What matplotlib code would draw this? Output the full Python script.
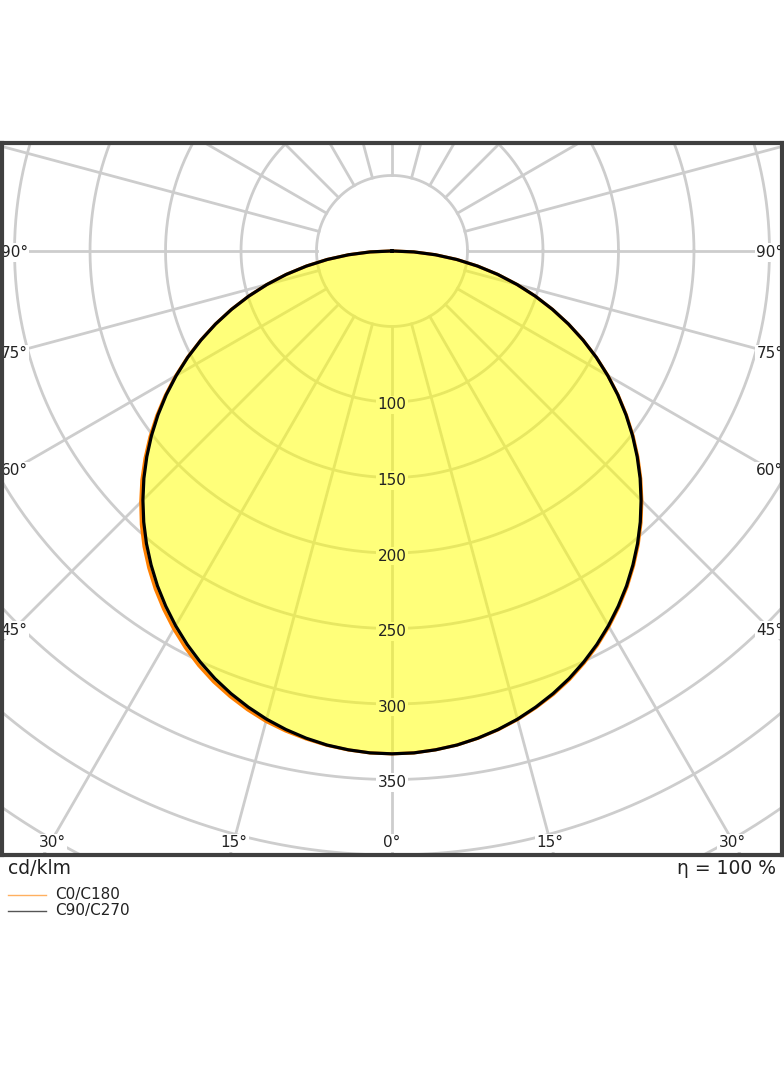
import numpy as np
import matplotlib.pyplot as plt
from matplotlib.lines import Line2D

# luminous intensity (cd/klm) vs gamma angle, 2.5 deg steps
gamma = [0, 2.5, 5, 7.5, 10, 12.5, 15, 17.5, 20, 22.5, 25, 27.5, 30, 32.5, 35, 37.5,
         40, 42.5, 45, 47.5, 50, 52.5, 55, 57.5, 60, 62.5, 65, 67.5, 70, 72.5, 75,
         77.5, 80, 82.5, 85, 87.5, 90]
# C0 plane (right half) and C180 plane (left half)
c0 = [333, 332.7, 331.6, 330, 327.7, 324.8, 321.3, 317.1, 312.5, 307.2, 301.1, 294.5,
      287.3, 279.6, 271.5, 262.8, 253.7, 244.1, 234.0, 223.5, 212.6, 201.3, 189.6, 177.6,
      165.2, 152.6, 139.7, 126.5, 113.1, 99.5, 85.7, 71.7, 57.5, 43.3, 28.9, 14.5, 0]
c180 = [333, 332.7, 331.7, 330.2, 328.1, 325.6, 322.5, 318.5, 313.9, 308.8, 302.9, 296.3,
        289.1, 281.4, 273.3, 264.6, 255.5, 245.7, 235.3, 224.7, 213.5, 202.0, 190.2, 178.0,
        165.5, 152.8, 139.8, 126.6, 113.2, 99.5, 85.7, 71.7, 57.5, 43.3, 28.9, 14.5, 0]
# C90/C270 plane (same both halves)
c90_c270 = [333, 332.7, 331.6, 330, 327.6, 324.6, 321, 316.7, 311.9, 306.5, 300.4, 293.8,
            286.6, 278.9, 270.8, 262.1, 253.0, 243.4, 233.3, 222.9, 212.0, 200.8, 189.2, 177.3,
            165.0, 152.5, 139.6, 126.5, 113.1, 99.5, 85.7, 71.7, 57.5, 43.3, 28.9, 14.5, 0]

radial_ticks = [100, 150, 200, 250, 300, 350]
side_angles = [90, 75, 60, 45]
bottom_angles = [30, 15, 0]
grid_color = '#cdcdcd'

fig = plt.figure(figsize=(7.84, 10.66), dpi=100)
ax = fig.add_axes([2 / 784, 211 / 1066, 780 / 784, 712 / 1066])
xlim = 258.3
ax.set_xlim(-xlim, xlim)
ax.set_ylim(-400, 71.5)
ax.set_xticks([])
ax.set_yticks([])
for s in ax.spines.values():
    s.set_linewidth(3)
    s.set_color('#404040')
    s.set_zorder(10)

# polar grid: circles every 50 and radial lines every 15 deg
t = np.linspace(0, 2 * np.pi, 720)
for r in range(50, 651, 50):
    ax.plot(r * np.cos(t), r * np.sin(t), color=grid_color, lw=2.0, zorder=1)
for a in range(0, 360, 15):
    ar = np.radians(a)
    ax.plot([50 * np.sin(ar), 800 * np.sin(ar)], [-50 * np.cos(ar), -800 * np.cos(ar)],
            color=grid_color, lw=2.0, zorder=1)

g = np.radians(np.array(gamma))
def curve(left, right):
    l = np.array(left, dtype=float)
    r = np.array(right, dtype=float)
    gg = np.concatenate([-g[::-1], g[1:]])
    vv = np.concatenate([l[::-1], r[1:]])
    return vv * np.sin(gg), -vv * np.cos(gg)

x0, y0 = curve(c180, c0)
x9, y9 = curve(c90_c270, c90_c270)
ax.fill(x0, y0, color='#ffff00', alpha=0.52, lw=0, zorder=2)
ax.plot(x0, y0, color='#ff8000', lw=2.3, zorder=3, solid_joinstyle='round')
ax.plot(x9, y9, color='black', lw=2.3, zorder=4, solid_joinstyle='round')

dy = -2.0  # small downward nudge of label text
# radial value labels
for r in radial_ticks:
    ax.text(0, -r + dy, str(r), ha='center', va='center', fontsize=11, color='none',
            bbox=dict(boxstyle='square,pad=0.1', fc='white', ec='none'), zorder=1.5)
    ax.text(0, -r + dy, str(r), ha='center', va='center', fontsize=11, color='#222222', zorder=5)

# angle labels along frame
lab_box = dict(boxstyle='square,pad=0.1', fc='white', ec='none')
xs = xlim - 8
for a in side_angles:
    yv = 0 if a == 90 else -xs / np.tan(np.radians(a))
    for sgn in (-1, 1):
        ax.text(sgn * xs, yv + dy * 0.5, f'{a}°', ha='center', va='center', fontsize=11,
                color='#222222', bbox=lab_box, zorder=6)
for a in bottom_angles:
    xv = 390 * np.tan(np.radians(a))
    for sgn in ((-1, 1) if a else (1,)):
        ax.text(sgn * xv, -390 + dy, f'{a}°', ha='center', va='center', fontsize=11,
                color='#222222', bbox=lab_box, zorder=6)

fig.text(8 / 784, 1 - 868 / 1066, 'cd/klm', ha='left', va='center', fontsize=13.5, color='#222222')
fig.text(776 / 784, 1 - 868 / 1066, 'η = 100 %', ha='right', va='center', fontsize=13.5, color='#222222')

# legend
for yy, col, lab in [(895, '#ffb060', 'C0/C180'), (911, '#555555', 'C90/C270')]:
    fy = 1 - yy / 1066
    fig.add_artist(Line2D([8 / 784, 46 / 784], [fy, fy], color=col, lw=1.0))
    fig.text(55 / 784, fy, lab, ha='left', va='center', fontsize=11, color='#222222')

fig.savefig('out.png', dpi=100)
